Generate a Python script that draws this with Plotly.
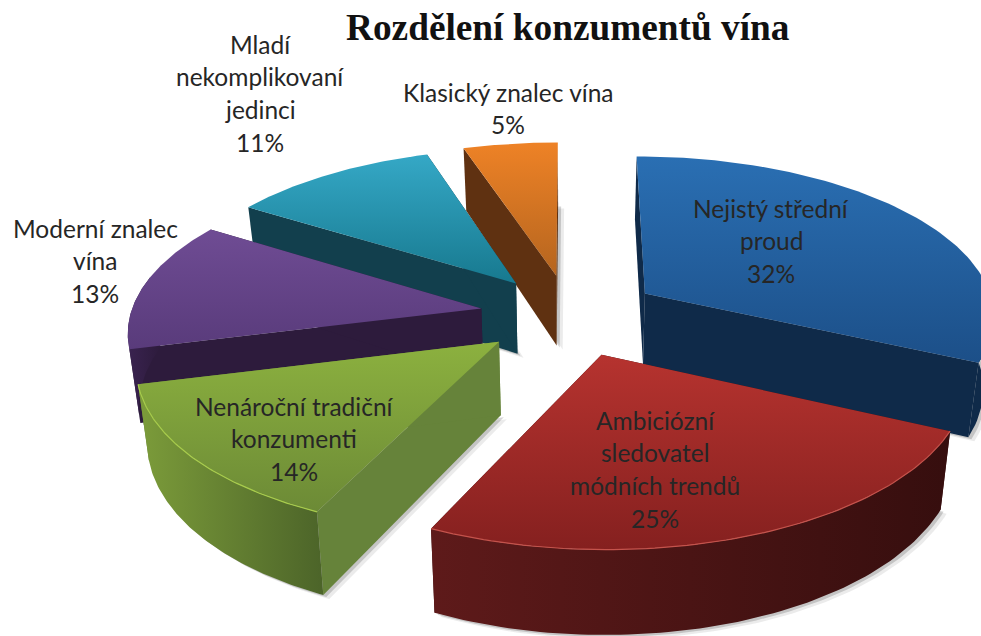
import numpy as np
import plotly.graph_objects as go

title = "Rozdělení konzumentů vína"
shares = [32, 25, 14, 13, 11, 5]

label_lines = [
    ["Nejistý střední", "proud", "32%"],
    ["Ambiciózní", "sledovatel", "módních trendů", "25%"],
    ["Nenároční tradiční", "konzumenti", "14%"],
    ["Moderní znalec", "vína", "13%"],
    ["Mladí", "nekomplikovaní", "jedinci", "11%"],
    ["Klasický znalec vína", "5%"],
]
label_x = [771, 655, 294, 95, 260, 508]
label_top = [208, 420, 406, 228, 44, 92]

# top gradient (front, back) because the y axis runs downwards, then walls and rim
top_colors = [("#1c4f88", "#2a6fb3"), ("#85201f", "#b6332f"), ("#6c8a36", "#8cb13f"),
              ("#593b7b", "#6f4c94"), ("#17798f", "#35a8c6"), ("#b5651f", "#ee8226")]
wall_colors = ["#0f2a49", "#3a0f10", "#66833a", "#2d1b3c", "#123f4d", "#5f3111"]
arc_colors = [("#0f2a49", "#0f2a49"), ("#5e1a1a", "#360e0e"), ("#7c9c3a", "#4c6429"),
              ("#3a2350", "#2d1b3c"), ("#123f4d", "#123f4d"), ("#5f3111", "#5f3111")]
rim_colors = ["#2a6fb3", "#c4534c", "#a8cc4c", "#6f4c94", "#35a8c6", "#ee8226"]

# projection of the pie, fitted to the picture
CX, HORIZON, K, P, A = 570, -950, 1265, 0.126, 351
PULL, DEPTH, NARROW = 0.257, 72, 0.975


def project(u, v, bottom=False):
    w = 1 - P * np.asarray(v)
    if bottom:
        return CX + NARROW * A * np.asarray(u) / w, HORIZON + (K + DEPTH) / w
    return CX + A * np.asarray(u) / w, HORIZON + K / w


def poly(x, y, fill=None, grad=None, kind="vertical"):
    tr = dict(x=list(x) + [x[0]], y=list(y) + [y[0]], mode="lines", fill="toself",
              line=dict(width=0), hoverinfo="skip", showlegend=False)
    if grad:
        tr["fillgradient"] = dict(type=kind, colorscale=[[0, grad[0]], [1, grad[1]]])
    else:
        tr["fillcolor"] = fill
    return go.Scatter(**tr)


fig = go.Figure()

edges = np.cumsum([0] + shares) / sum(shares) * 2 * np.pi
draw_order = [5, 4, 3, 2, 0, 1]

for i in draw_order:
    t0, t1 = edges[i], edges[i + 1]
    mid = (t0 + t1) / 2
    ou, ov = PULL * np.sin(mid), -PULL * np.cos(mid)
    th = np.linspace(t0, t1, 80)
    au, av = ou + np.sin(th), ov - np.cos(th)
    pu = np.r_[ou, au]
    pv = np.r_[ov, av]

    tx, ty = project(pu, pv)
    bx, by = project(pu, pv, bottom=True)

    # soft shadow under the slice
    for dx, dy, alpha in [(6, 4, 0.10), (3, 2, 0.22)]:
        fig.add_trace(poly(bx + dx, by + dy, fill=f"rgba(60,60,60,{alpha})"))

    # radial walls
    for j in (1, -1):
        fig.add_trace(poly([tx[0], tx[j], bx[j], bx[0]], [ty[0], ty[j], by[j], by[0]], fill=wall_colors[i]))

    # outer wall, front part only
    front = av > -0.25
    if front.any():
        ax, ay = tx[1:][front], ty[1:][front]
        cx, cy = bx[1:][front], by[1:][front]
        fig.add_trace(poly(np.r_[ax, cx[::-1]], np.r_[ay, cy[::-1]], grad=arc_colors[i], kind="horizontal"))

    fig.add_trace(poly(tx, ty, grad=top_colors[i]))

    # thin light rim along the front edge of the top
    if i in (1, 2):
        fig.add_trace(go.Scatter(x=tx[1:], y=ty[1:], mode="lines", hoverinfo="skip", showlegend=False,
                                 line=dict(color=rim_colors[i], width=1.2)))

for lines, x, top in zip(label_lines, label_x, label_top):
    for n, line in enumerate(lines):
        fig.add_annotation(x=x, y=top + n * 32.7, text=line, showarrow=False, xanchor="center", yanchor="middle",
                           font=dict(family="Lato", size=24.5, color="#262626"))

fig.add_annotation(x=568, y=27, text=f"<b>{title}</b>", showarrow=False, xanchor="center", yanchor="middle",
                   font=dict(family="Liberation Serif", size=37.3, color="#111111"))

fig.update_xaxes(range=[0, 981], visible=False, fixedrange=True)
fig.update_yaxes(range=[636, 0], visible=False, fixedrange=True)
fig.update_layout(width=981, height=636, margin=dict(l=0, r=0, t=0, b=0), showlegend=False,
                  paper_bgcolor="white", plot_bgcolor="white")

fig.write_html("out.html", config=dict(displayModeBar=False),
               post_script="document.body.style.margin='0';document.body.style.overflow='hidden';")
